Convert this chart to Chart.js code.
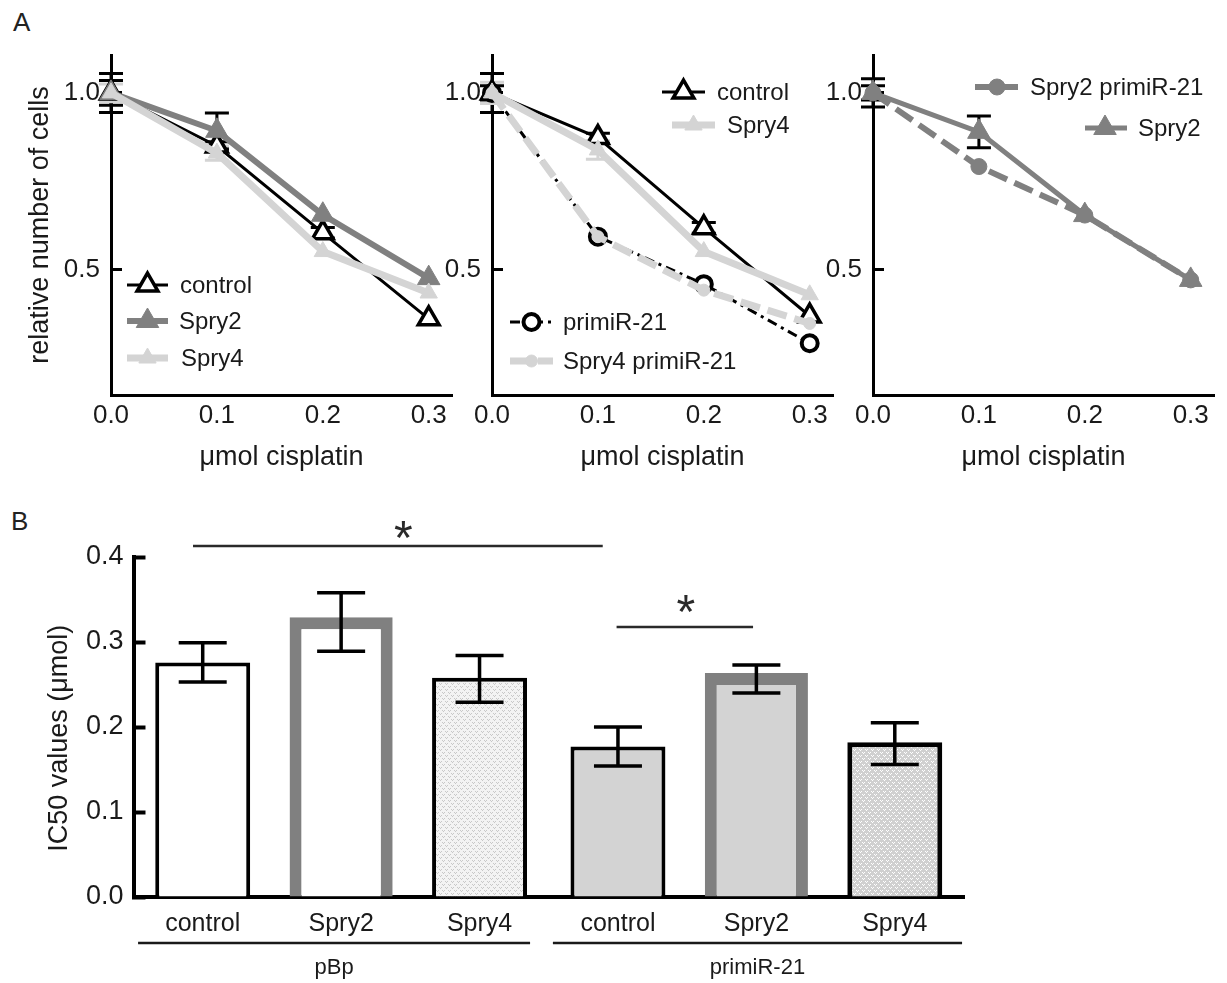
<!DOCTYPE html>
<html><head><meta charset="utf-8">
<script src="https://cdn.jsdelivr.net/npm/chart.js@4.4.0/dist/chart.umd.min.js"></script>
<style>
html,body{margin:0;padding:0;background:#fff;}
#wrap{position:relative;width:1227px;height:983px;overflow:hidden;background:#fff;font-family:"Liberation Sans",Arial,sans-serif;}
canvas{position:absolute;}
.lbl{position:absolute;font-size:26px;color:#222;line-height:normal;}
</style></head><body>
<div id="wrap">
<div class="lbl" style="left:13px;top:7px">A</div>
<div class="lbl" style="left:11px;top:506px">B</div>
<canvas id="a1" width="460" height="440" style="left:0;top:40px"></canvas>
<canvas id="a2" width="410" height="440" style="left:440px;top:40px"></canvas>
<canvas id="a3" width="407" height="440" style="left:820px;top:40px"></canvas>
<canvas id="b" width="1227" height="493" style="left:0;top:490px"></canvas>
</div>
<script>
// ---------------- DATA ----------------
const doses = [0, 0.1, 0.2, 0.3];
const doseTicks = [0, 0.1, 0.2, 0.3];
const relTicks = [0.5, 1.0];

// Panel A, left
const a1Control = [1.0, 0.850, 0.605, 0.362];
const a1ControlErr = [0.055, 0.012, 0.015, 0];
const a1Spry2 = [1.0, 0.893, 0.656, 0.477];
const a1Spry2Err = [0.035, 0.050, 0, 0];
const a1Spry4 = [1.0, 0.830, 0.552, 0.435];
const a1Spry4Err = [0.025, 0.020, 0, 0];

// Panel A, middle
const a2Control = [1.0, 0.874, 0.619, 0.370];
const a2ControlErr = [0.055, 0.012, 0.015, 0];
const a2Spry4 = [1.0, 0.839, 0.552, 0.430];
const a2Spry4Err = [0.030, 0.026, 0, 0];
const a2Primi = [1.0, 0.594, 0.460, 0.293];
const a2PrimiErr = [0.020, 0, 0, 0];
const a2Spry4Primi = [1.0, 0.594, 0.443, 0.349];
const a2Spry4PrimiErr = [0, 0, 0, 0];

// Panel A, right
const a3Spry2Primi = [1.0, 0.792, 0.655, 0.472];
const a3Spry2PrimiErr = [0.020, 0, 0, 0];
const a3Spry2 = [1.0, 0.890, 0.655, 0.472];
const a3Spry2Err = [0.040, 0.045, 0, 0];

// Panel B
const barCats = ['control', 'Spry2', 'Spry4', 'control', 'Spry2', 'Spry4'];
const groupLabels = ['pBp', 'primiR-21'];
const ic50 = [0.276, 0.329, 0.258, 0.177, 0.2635, 0.182];
const ic50Upper = [0.299, 0.358, 0.284, 0.200, 0.273, 0.205];
const ic50Lower = [0.253, 0.289, 0.229, 0.154, 0.240, 0.156];
const bTicks = [0, 0.1, 0.2, 0.3, 0.4];

// ---------------- STYLE ----------------
const FONT = '"Liberation Sans", Arial, Helvetica, sans-serif';
const TXT = '#1a1a1a';
const GRAY = '#808080';
const LIGHT = '#d4d4d4';
Chart.defaults.font.family = FONT;
Chart.defaults.color = TXT;

function drawMarker(ctx, style, r, fill, stroke, bw, x, y) {
  ctx.beginPath();
  if (style === 'triangle') {
    ctx.moveTo(x, y - r);
    ctx.lineTo(x + 0.8660254 * r, y + 0.5 * r);
    ctx.lineTo(x - 0.8660254 * r, y + 0.5 * r);
    ctx.closePath();
  } else {
    ctx.arc(x, y, r, 0, Math.PI * 2);
    ctx.closePath();
  }
  ctx.fillStyle = fill; ctx.fill();
  if (bw > 0) { ctx.lineWidth = bw; ctx.strokeStyle = stroke; ctx.stroke(); }
}

const errPlugin = {
  id: 'errBars',
  beforeDatasetsDraw(chart, args, opts) {
    const ctx = chart.ctx, ys = chart.scales.y;
    chart.data.datasets.forEach((ds, i) => {
      if (!ds.errors) return;
      const meta = chart.getDatasetMeta(i);
      ctx.save();
      ctx.strokeStyle = ds.errorColor; ctx.lineWidth = opts.width; ctx.setLineDash([]);
      meta.data.forEach((pt, j) => {
        const v = ds.values[j], e = ds.errors[j];
        if (!e) return;
        const yt = ys.getPixelForValue(v + e), yb = ys.getPixelForValue(v - e);
        ctx.beginPath();
        ctx.moveTo(pt.x, yt); ctx.lineTo(pt.x, yb);
        ctx.moveTo(pt.x - opts.cap, yt); ctx.lineTo(pt.x + opts.cap, yt);
        ctx.moveTo(pt.x - opts.cap, yb); ctx.lineTo(pt.x + opts.cap, yb);
        ctx.stroke();
      });
      ctx.restore();
    });
  }
};

const legendPlugin = {
  id: 'freeLegend',
  afterDraw(chart, args, opts) {
    const ctx = chart.ctx;
    (opts.items || []).forEach(it => {
      const ds = chart.data.datasets[it.index];
      ctx.save();
      ctx.strokeStyle = ds.borderColor; ctx.lineWidth = ds.borderWidth;
      ctx.setLineDash(ds.borderDash || []);
      ctx.beginPath(); ctx.moveTo(it.x1, it.y); ctx.lineTo(it.x2, it.y); ctx.stroke();
      ctx.setLineDash([]);
      const mx = it.mx !== undefined ? it.mx : (it.x1 + it.x2) / 2;
      drawMarker(ctx, ds.pointStyle, ds.pointRadius, ds.pointBackgroundColor, ds.pointBorderColor, ds.pointBorderWidth, mx, it.y);
      ctx.fillStyle = TXT; ctx.font = '24px ' + FONT;
      ctx.textBaseline = 'middle'; ctx.textAlign = 'left';
      ctx.fillText(ds.label, it.tx, it.y + 1);
      ctx.restore();
    });
  }
};

function pts(vals) { return doses.map((d, i) => ({ x: d, y: vals[i] })); }

function series(label, vals, errs, errColor, style) {
  return Object.assign({
    label, data: pts(vals), values: vals, errors: errs, errorColor: errColor,
    tension: 0, fill: false, clip: false, borderCapStyle: 'butt', borderJoinStyle: 'miter'
  }, style);
}

const sControl = { borderColor: '#000', borderWidth: 3, pointStyle: 'triangle', pointRadius: 12,
  pointBackgroundColor: '#fff', pointBorderColor: '#000', pointBorderWidth: 3.5 };
const sSpry2 = { borderColor: GRAY, borderWidth: 6, pointStyle: 'triangle', pointRadius: 13,
  pointBackgroundColor: GRAY, pointBorderColor: GRAY, pointBorderWidth: 1 };
const sSpry4 = { borderColor: LIGHT, borderWidth: 7, pointStyle: 'triangle', pointRadius: 10,
  pointBackgroundColor: LIGHT, pointBorderColor: LIGHT, pointBorderWidth: 1 };
const sPrimi = { borderColor: '#000', borderWidth: 3, borderDash: [10, 5, 3, 5], pointStyle: 'circle', pointRadius: 8,
  pointBackgroundColor: '#fff', pointBorderColor: '#000', pointBorderWidth: 4 };
const sSpry4Primi = { borderColor: LIGHT, borderWidth: 7, borderDash: [20, 8], pointStyle: 'circle', pointRadius: 6,
  pointBackgroundColor: LIGHT, pointBorderColor: LIGHT, pointBorderWidth: 1 };
const sSpry2Primi = { borderColor: GRAY, borderWidth: 6, borderDash: [20, 8], pointStyle: 'circle', pointRadius: 8,
  pointBackgroundColor: GRAY, pointBorderColor: GRAY, pointBorderWidth: 1 };

function zeroPad(s) { s.paddingTop = 0; s.paddingBottom = 0; s.paddingLeft = 0; s.paddingRight = 0; }

function lineChart(id, datasets, legendItems, cfg) {
  return new Chart(document.getElementById(id), {
    type: 'line',
    data: { datasets },
    options: {
      responsive: false, animation: false, devicePixelRatio: 1,
      events: [],
      layout: { autoPadding: false, padding: { left: cfg.padLeft, right: cfg.padRight, top: 15, bottom: 0 } },
      plugins: {
        legend: { display: false }, tooltip: { enabled: false },
        errBars: { width: 3, cap: 12 },
        freeLegend: { items: legendItems }
      },
      scales: {
        x: {
          type: 'linear', min: 0, max: 0.322,
          afterBuildTicks: s => { s.ticks = doseTicks.map(v => ({ value: v })); },
          afterFit: s => { s.height = 85; zeroPad(s); },
          grid: { display: false },
          border: { display: true, color: '#000', width: 3 },
          ticks: { padding: -3, font: { size: 26 }, color: TXT, maxRotation: 0, callback: v => Number(v).toFixed(1) },
          title: { display: true, text: 'μmol cisplatin', font: { size: 27 }, color: TXT, padding: { top: 0, bottom: 6 } }
        },
        y: {
          type: 'linear', min: 0.147, max: 1.107,
          afterBuildTicks: s => { s.ticks = relTicks.map(v => ({ value: v })); },
          afterFit: s => { s.width = cfg.yWidth; zeroPad(s); },
          grid: { display: true, drawOnChartArea: false, drawTicks: true, tickLength: -11, tickWidth: 3, tickColor: '#000' },
          border: { display: true, color: '#000', width: 3 },
          ticks: { padding: 22, font: { size: 26 }, color: TXT, callback: v => Number(v).toFixed(1) },
          title: { display: cfg.yTitle, text: 'relative number of cells', font: { size: 27 }, color: TXT, padding: 0 }
        }
      }
    },
    plugins: [errPlugin, legendPlugin]
  });
}

// Panel A left (canvas offset 0,40)
lineChart('a1', [
  Object.assign(series('control', a1Control, a1ControlErr, '#000', sControl), { order: 3 }),
  Object.assign(series('Spry2', a1Spry2, a1Spry2Err, '#000', sSpry2), { order: 2 }),
  Object.assign(series('Spry4', a1Spry4, a1Spry4Err, LIGHT, sSpry4), { order: 1 })
], [
  { index: 0, x1: 127, x2: 168, y: 245, tx: 180 },
  { index: 1, x1: 127, x2: 168, y: 281, tx: 179 },
  { index: 2, x1: 127, x2: 168, y: 318, tx: 181 }
], { padLeft: 24, padRight: 8, yWidth: 87, yTitle: true });

// Panel A middle (canvas offset 440,40)
lineChart('a2', [
  Object.assign(series('control', a2Control, a2ControlErr, '#000', sControl), { order: 4 }),
  Object.assign(series('primiR-21', a2Primi, a2PrimiErr, '#000', sPrimi), { order: 3 }),
  Object.assign(series('Spry4', a2Spry4, a2Spry4Err, LIGHT, sSpry4), { order: 2 }),
  Object.assign(series('Spry4 primiR-21', a2Spry4Primi, a2Spry4PrimiErr, LIGHT, sSpry4Primi), { order: 1 })
], [
  { index: 0, x1: 222, x2: 265, y: 52, tx: 277 },
  { index: 2, x1: 232, x2: 275, y: 85, tx: 287 },
  { index: 1, x1: 70, x2: 113, y: 282, tx: 123 },
  { index: 3, x1: 70, x2: 113, y: 321, tx: 123 }
], { padLeft: 0, padRight: 17, yWidth: 52, yTitle: false });

// Panel A right (canvas offset 820,40)
lineChart('a3', [
  Object.assign(series('Spry2 primiR-21', a3Spry2Primi, a3Spry2PrimiErr, '#000', sSpry2Primi), { order: 2 }),
  Object.assign(series('Spry2', a3Spry2, a3Spry2Err, '#000', Object.assign({}, sSpry2, { borderWidth: 5 })), { order: 1 })
], [
  { index: 0, x1: 155, x2: 198, mx: 177, y: 47, tx: 210 },
  { index: 1, x1: 265, x2: 307, mx: 285, y: 88, tx: 318 }
], { padLeft: 0, padRight: 13, yWidth: 53, yTitle: false });

// ---------------- Panel B ----------------
const bCanvas = document.getElementById('b');
const bctx = bCanvas.getContext('2d');
function makePattern(base, dot) {
  const c = document.createElement('canvas'); c.width = 6; c.height = 6;
  const g = c.getContext('2d');
  g.fillStyle = base; g.fillRect(0, 0, 6, 6);
  g.fillStyle = dot;
  [[1,1],[3,1],[2,2],[4,4],[0,4],[5,5]].forEach(p => g.fillRect(p[0], p[1], 1, 1));
  return bctx.createPattern(c, 'repeat');
}
const patLight = makePattern('#f3f3f3', '#c8c8c8');
const patDark = makePattern('#d0d0d0', '#ffffff');
const barFills = ['#ffffff', '#ffffff', patLight, '#d3d3d3', '#d3d3d3', patDark];
const barEdges = ['#000', GRAY, '#000', '#000', GRAY, '#000'];
const barEdgeW = [4, 12, 4, 4, 12, 5];
const isSpry2 = i => barCats[i] === 'Spry2';

const barExtras = {
  id: 'barExtras',
  afterDatasetsDraw(chart) {
    const ctx = chart.ctx, xs = chart.scales.x, ys = chart.scales.y;
    ctx.save(); ctx.strokeStyle = '#000'; ctx.lineWidth = 3.5;
    ic50.forEach((v, i) => {
      const x = xs.getPixelForValue(i);
      const yt = ys.getPixelForValue(ic50Upper[i]), yb = ys.getPixelForValue(ic50Lower[i]);
      ctx.beginPath();
      ctx.moveTo(x, yt); ctx.lineTo(x, yb);
      ctx.moveTo(x - 24, yt); ctx.lineTo(x + 24, yt);
      ctx.moveTo(x - 24, yb); ctx.lineTo(x + 24, yb);
      ctx.stroke();
    });
    ctx.restore();
  },
  afterDraw(chart, args, opts) {
    const ctx = chart.ctx, xs = chart.scales.x, ys = chart.scales.y;
    ctx.save();
    opts.brackets.forEach(b => {
      const y = ys.getPixelForValue(b.y);
      ctx.strokeStyle = '#2a2a2a'; ctx.lineWidth = 2.5;
      ctx.beginPath(); ctx.moveTo(xs.getPixelForValue(b.from), y); ctx.lineTo(xs.getPixelForValue(b.to), y); ctx.stroke();
      ctx.font = '48px ' + FONT; ctx.fillStyle = '#2a2a2a'; ctx.textAlign = 'center'; ctx.textBaseline = 'alphabetic';
      const m = ctx.measureText('*');
      const cy = ys.getPixelForValue(b.starY);
      const base = cy - (m.actualBoundingBoxDescent - m.actualBoundingBoxAscent) / 2;
      ctx.fillText('*', xs.getPixelForValue(b.starX), base);
    });
    opts.groups.forEach((g, k) => {
      const x1 = xs.getPixelForValue(g.from), x2 = xs.getPixelForValue(g.to);
      ctx.strokeStyle = '#1a1a1a'; ctx.lineWidth = 2.5;
      ctx.beginPath(); ctx.moveTo(x1, opts.lineY); ctx.lineTo(x2, opts.lineY); ctx.stroke();
      ctx.font = '22px ' + FONT; ctx.fillStyle = TXT; ctx.textAlign = 'center'; ctx.textBaseline = 'middle';
      ctx.fillText(groupLabels[k], (x1 + x2) / 2, opts.labelY);
    });
    ctx.restore();
  }
};

new Chart(bCanvas, {
  type: 'bar',
  data: {
    labels: barCats,
    datasets: [
      { label: 'IC50', data: ic50.map((v, i) => isSpry2(i) ? null : v),
        backgroundColor: barFills, borderColor: barEdges, borderWidth: barEdgeW,
        barPercentage: 0.686, categoryPercentage: 1, grouped: false, borderSkipped: 'start' },
      { label: 'IC50 Spry2', data: ic50.map((v, i) => isSpry2(i) ? v : null),
        backgroundColor: barFills, borderColor: barEdges, borderWidth: barEdgeW,
        barPercentage: 0.745, categoryPercentage: 1, grouped: false, borderSkipped: 'start' }
    ]
  },
  options: {
    responsive: false, animation: false, devicePixelRatio: 1, events: [],
    layout: { autoPadding: false, padding: { left: 43, right: 263, top: 67, bottom: 0 } },
    plugins: {
      legend: { display: false }, tooltip: { enabled: false },
      barExtras: {
        brackets: [
          { from: -0.07, to: 2.89, y: 0.413, starX: 1.45, starY: 0.432 },
          { from: 2.99, to: 3.976, y: 0.3176, starX: 3.49, starY: 0.345 }
        ],
        groups: [ { from: -0.467, to: 2.365 }, { from: 2.53, to: 5.486 } ],
        lineY: 453, labelY: 478
      }
    },
    scales: {
      x: {
        z: 1,
        afterFit: s => { s.height = 86; zeroPad(s); },
        grid: { display: false },
        border: { display: true, color: '#000', width: 4 },
        ticks: { padding: 4, font: { size: 25 }, color: TXT, autoSkip: false, maxRotation: 0 }
      },
      y: {
        min: 0, max: 0.4,
        afterBuildTicks: s => { s.ticks = bTicks.map(v => ({ value: v })); },
        afterFit: s => { s.width = 90.5; zeroPad(s); },
        grid: { display: true, drawOnChartArea: false, drawTicks: true, tickLength: -12, tickWidth: 4, tickColor: '#000' },
        border: { display: true, color: '#000', width: 4 },
        ticks: { padding: 22, font: { size: 27 }, color: TXT, callback: v => Number(v).toFixed(1) },
        title: { display: true, text: 'IC50 values (μmol)\u00a0\u00a0\u00a0', font: { size: 27 }, color: TXT, padding: 0 }
      }
    }
  },
  plugins: [barExtras]
});
</script>
</body></html>
